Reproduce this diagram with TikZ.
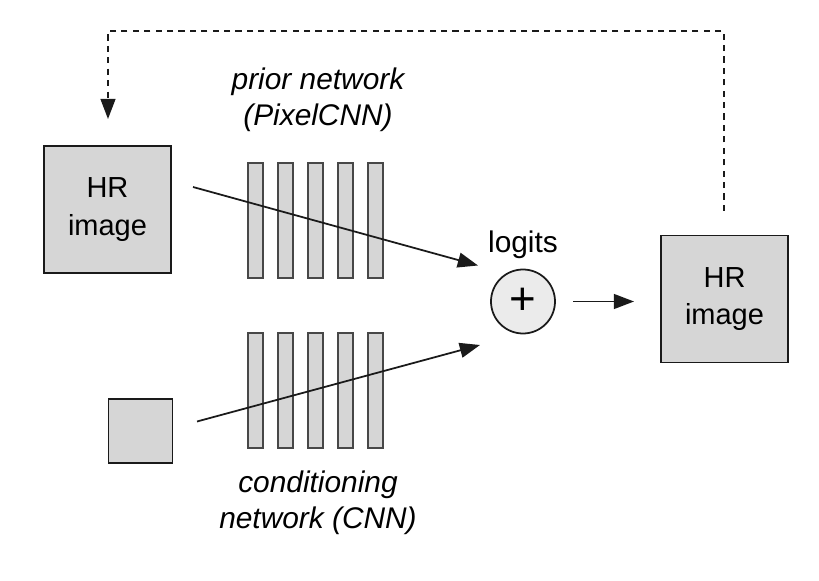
\documentclass[tikz,border=0pt]{standalone}
\usepackage{fontspec}
\setmainfont{Liberation Sans}
\usepackage{xcolor}
\definecolor{colBox}{HTML}{D6D6D6}
\definecolor{colSum}{HTML}{EBEBEB}
\definecolor{colLine}{HTML}{1A1A1A}
\usetikzlibrary{arrows.meta, positioning}

\begin{document}
\begin{tikzpicture}[x=0.02cm, y=-0.02cm,
        imgbox/.style={draw=colLine, fill=colBox, line width=1pt, minimum size=127*0.02cm,
            inner sep=0pt, align=center, font=\fontsize{16.5}{21.5}\selectfont},
        barbox/.style={draw=colLine!80, fill=colBox, line width=0.65pt, minimum width=15*0.02cm,
            minimum height=115*0.02cm, inner sep=0pt},
        lbl/.style={align=center, font=\fontsize{17}{20.5}\selectfont\itshape},
        flow/.style={-{Triangle[length=11.5pt, width=8.5pt]}, line width=1pt, colLine}]
        \useasboundingbox (0,0) rectangle (819,581);
        % Ingressi
        \node[imgbox] (hrin) at (107.5,209.5) {HR\\image};
        \node[draw=colLine, fill=colBox, line width=1pt, minimum size=64*0.02cm, inner sep=0pt] (lrin) at (140.5,431) {};
        % Reti (colonne)
        \foreach \i in {1,...,5}{
            \node[barbox] (pt\i) at (225.5+30*\i,220.5) {};
            \node[barbox] (cb\i) at (225.5+30*\i,390.5) {};}
        \node[lbl] (prior) at (318,100) {prior network\\(PixelCNN)};
        \node[lbl] (cond) at (318,503) {conditioning\\network (CNN)};
        % Somma e uscita
        \node[circle, draw=colLine, fill=colSum, line width=1pt, minimum size=64*0.02cm,
            inner sep=0pt, font=\fontsize{26}{26}\selectfont] (sum) at (523,301.5) {+};
        \node[font=\fontsize{17}{19}\selectfont, above=2pt of sum] (logits) {logits};
        \node[imgbox] (hrout) at (724.5,299) {HR\\image};
        % Frecce
        \coordinate (a1) at (193,187);
        \coordinate (a2) at (478,265.5);
        \coordinate (b1) at (197,421.5);
        \coordinate (b2) at (480,345);
        \draw[flow] (a1) -- (a2);
        \draw[flow] (b1) -- (b2);
        \coordinate (c1) at (573,301.5);
        \coordinate (c2) at (634,301.5);
        \draw[flow] (c1) -- (c2);
        % Retroazione
        \coordinate (d1) at (724,211);
        \coordinate (d2) at (108,119);
        \draw[flow, dash pattern=on 3.5pt off 3pt] (d1) |- (416,31) -| (d2);
    \end{tikzpicture}
\end{document}
